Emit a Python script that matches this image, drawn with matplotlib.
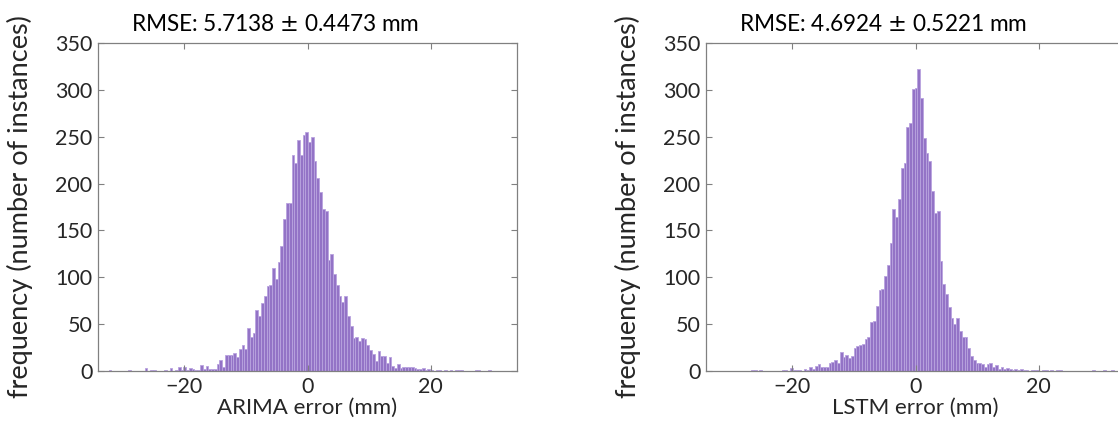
import numpy as np
import matplotlib
matplotlib.use("Agg")
import matplotlib.pyplot as plt

plt.rcParams['font.family'] = ['Lato', 'DejaVu Sans']

# bin layout (mm)
bin_width = 0.45
arima_first_edge = -32.3
lstm_first_edge = -26.7

# counts per bin, left to right
arima_counts = [
    1, 0, 0, 0, 0, 0, 0, 1, 0, 0, 0, 0, 0, 3, 0, 1, 1, 0, 0, 0,
    1, 0, 3, 0, 1, 4, 1, 4, 1, 3, 2, 1, 1, 6, 2, 5, 2, 2, 2, 7,
    12, 4, 17, 17, 17, 19, 15, 23, 28, 23, 46, 36, 41, 65, 59, 73, 80, 91, 92, 110,
    98, 116, 133, 162, 179, 179, 231, 222, 246, 230, 252, 255,
    244, 250, 224, 206, 191, 173, 171, 118, 125, 103, 92, 80, 74, 80, 59, 48,
    35, 36, 32, 35, 34, 28, 22, 18, 11, 21, 16, 16, 8, 15, 5, 3, 7, 3,
    4, 4, 4, 4, 3, 2, 2, 3, 1, 2, 1, 0, 1, 1, 0, 1, 0, 1, 0, 1,
    1, 1, 0, 0, 0, 0, 1, 1, 0, 0, 0, 1,
]

lstm_counts = [
    1, 1, 0, 1, 0, 0, 0, 0, 0, 0, 0, 1, 1, 0, 3, 1, 1, 1, 0, 2,
    1, 4, 2, 5, 7, 4, 4, 4, 9, 10, 12, 9, 20, 15, 17, 14, 16, 24, 27, 28,
    29, 34, 36, 52, 53, 69, 86, 87, 101, 113, 137, 173, 164, 184, 217, 222, 260, 265,
    301, 302, 322,
    291, 249, 233, 224, 192, 169, 171, 117, 93, 82, 68, 57, 50, 57, 43, 36,
    36, 25, 16, 12, 9, 9, 7, 4, 7, 9, 4, 6, 2, 4, 2, 3, 2, 1, 2, 1,
    2, 1, 1, 0, 1, 1, 1, 0, 1, 1, 0, 1, 0, 1, 1, 0, 0, 0, 0, 0,
    0, 0, 0, 0, 0, 0, 1, 0, 0, 0, 1, 0, 0, 1,
]

panels = [
    ('ARIMA error (mm)', 'RMSE: 5.7138 $\\pm$ 0.4473 mm', arima_first_edge, arima_counts),
    ('LSTM error (mm)', 'RMSE: 4.6924 $\\pm$ 0.5221 mm', lstm_first_edge, lstm_counts),
]

text_color = '#262626'
spine_color = '#808080'
bar_face = '#9373c6'
bar_edge = '#b9a3df'

fig = plt.figure(figsize=(11.18, 4.34), dpi=100)
axes_boxes = [[0.0877, 0.1452, 0.3748, 0.7557], [0.6315, 0.1452, 0.3748, 0.7557]]

for box, (xlabel, title, first_edge, counts) in zip(axes_boxes, panels):
    ax = fig.add_axes(box)
    edges = first_edge + bin_width * np.arange(len(counts) + 1)
    centers = (edges[:-1] + edges[1:]) / 2
    ax.hist(centers, bins=edges, weights=counts, color=bar_face,
            edgecolor=bar_edge, linewidth=0.6)

    ax.set_xlim(-34, 34)
    ax.set_ylim(0, 350)
    ax.set_xticks([-20, 0, 20])
    ax.set_yticks(range(0, 351, 50))
    ax.tick_params(direction='in', top=True, right=True, length=4,
                   color=spine_color, labelsize=15.5, labelcolor=text_color, pad=4)
    for s in ax.spines.values():
        s.set_color(spine_color)
        s.set_linewidth(0.9)

    ax.set_xlabel(xlabel, fontsize=16, color=text_color, labelpad=1)
    ax.set_ylabel('frequency (number of instances)', fontsize=19.5, color=text_color)
    ax.yaxis.set_label_coords(-0.155, 0.5)
    ax.text(0.422, 1.025, title, transform=ax.transAxes, ha='center', va='bottom',
            fontsize=16.3, color='black')

fig.savefig('out.png', dpi=100)
